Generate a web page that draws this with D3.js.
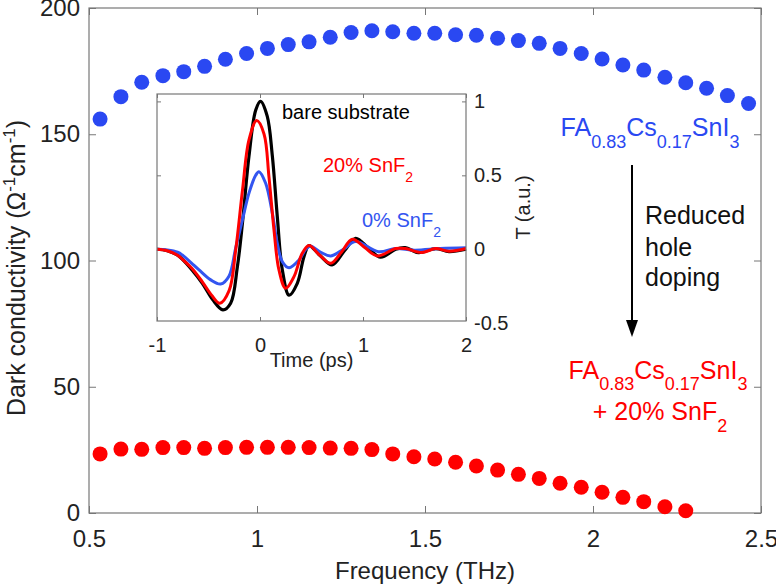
<!DOCTYPE html>
<html>
<head>
<meta charset="utf-8">
<script src="https://cdn.jsdelivr.net/npm/d3@7"></script>
<style>
  body { margin: 0; background: #fff; }
  text { font-family: "Liberation Sans", Arial, Helvetica, sans-serif; }
</style>
</head>
<body>
<script>
// main panel: dark conductivity vs frequency
const freq = [0.533, 0.595, 0.657, 0.720, 0.782, 0.844, 0.906, 0.969, 1.031, 1.093,
  1.155, 1.218, 1.280, 1.342, 1.404, 1.467, 1.529, 1.591, 1.653, 1.716,
  1.778, 1.840, 1.902, 1.965, 2.027, 2.089, 2.151, 2.214, 2.276, 2.338, 2.400, 2.463]
const sigmaPure = [156.0, 164.9, 170.6, 173.2, 174.8, 176.9, 179.7, 182.0, 184.0, 185.5,
  186.6, 188.4, 190.3, 191.0, 190.6, 190.0, 190.0, 189.4, 189.2, 188.0,
  187.1, 186.0, 184.0, 182.0, 179.8, 177.4, 175.4, 172.6, 170.4, 168.2, 165.3, 162.2]
const sigmaSnF2 = [23.4, 25.3, 25.2, 25.9, 25.9, 25.6, 25.9, 26.0, 26.0, 26.0,
  25.9, 25.7, 25.6, 25.1, 23.4, 22.3, 21.4, 20.1, 18.6, 17.0,
  15.3, 13.7, 11.8, 10.2, 8.2, 6.2, 4.5, 2.5, 0.9]
const xTicks = [0.5, 1, 1.5, 2, 2.5]
const yTicks = [0, 50, 100, 150, 200]

// inset: THz transients
const tBare = [-1.0, -0.9, -0.8, -0.75, -0.66, -0.56, -0.46, -0.36, -0.285, -0.22, -0.17, -0.107, -0.042, 0.005,
  0.07, 0.12, 0.168, 0.217, 0.282, 0.362, 0.427, 0.476, 0.58, 0.70, 0.82, 0.929, 1.05, 1.17, 1.317, 1.41,
  1.54, 1.706, 1.835, 2.0]
const eBare = [0, -0.01, -0.04, -0.07, -0.14, -0.23, -0.34, -0.41, -0.365, -0.12, 0.18, 0.63, 0.94, 1.0,
  0.90, 0.63, 0.22, -0.14, -0.31, -0.23, -0.05, 0.025, -0.04, -0.106, -0.01, 0.074, 0.01, -0.054, 0, 0.011,
  -0.023, 0.005, -0.016, 0]
const tRed = [-1.0, -0.9, -0.8, -0.75, -0.66, -0.56, -0.47, -0.39, -0.30, -0.236, -0.17, -0.107, -0.032, 0.039,
  0.087, 0.136, 0.184, 0.249, 0.33, 0.41, 0.476, 0.58, 0.686, 0.79, 0.896, 1.02, 1.139, 1.317, 1.41, 1.57,
  1.706, 1.835, 2.0]
const eRed = [0, -0.01, -0.04, -0.07, -0.13, -0.22, -0.31, -0.365, -0.28, -0.005, 0.40, 0.74, 0.87, 0.78,
  0.49, 0.13, -0.14, -0.264, -0.185, -0.027, 0.025, -0.04, -0.095, -0.02, 0.068, 0.01, -0.045, 0.005, 0.005, -0.022,
  0.005, -0.013, 0.005]
const tBlue = [-1.0, -0.9, -0.8, -0.754, -0.67, -0.592, -0.479, -0.382, -0.30, -0.236, -0.17, -0.107, -0.042, -0.01,
  0.055, 0.12, 0.168, 0.217, 0.282, 0.379, 0.444, 0.49, 0.59, 0.686, 0.81, 0.929, 1.15, 1.317, 1.5, 1.75, 2.0]
const eBlue = [0, -0.005, -0.02, -0.039, -0.09, -0.14, -0.207, -0.235, -0.18, 0.01, 0.2, 0.38, 0.50, 0.525,
  0.446, 0.243, 0.04, -0.084, -0.125, -0.072, 0, 0.02, -0.02, -0.045, 0.0, 0.052, -0.016, 0.005, -0.006, 0.005, 0.01]
const tTicks = [-1, 0, 1, 2]
const eTicks = [-0.5, 0, 0.5, 1]

const BLUE = "#2a48f2"
const RED = "#ff0000"
const AXIS = "#777"

const svg = d3.select("body").append("svg")
    .attr("width", 776)
    .attr("height", 585)

const x = d3.scaleLinear().domain([0.5, 2.5]).range([89, 761])
const y = d3.scaleLinear().domain([0, 200]).range([513, 8])

// plain labels with a hyphen for negatives, like the original
const plain = d => String(d)

// axes with inward ticks on all sides
function styleAxis(g, size) {
    g.select(".domain").remove()
    g.selectAll(".tick line").attr("stroke", AXIS)
    g.selectAll(".tick text").attr("fill", "#222").attr("font-size", size)
}

svg.append("g").attr("transform", "translate(0,513)")
    .call(d3.axisBottom(x).tickValues(xTicks).tickFormat(plain).tickSizeInner(-7).tickSizeOuter(0).tickPadding(17))
    .call(g => styleAxis(g, 24))
svg.append("g").attr("transform", "translate(0,8)")
    .call(d3.axisTop(x).tickValues(xTicks).tickFormat("").tickSizeInner(-7).tickSizeOuter(0))
    .call(g => styleAxis(g, 24))
svg.append("g").attr("transform", "translate(89,0)")
    .call(d3.axisLeft(y).tickValues(yTicks).tickFormat(plain).tickSizeInner(-7).tickSizeOuter(0).tickPadding(9))
    .call(g => styleAxis(g, 24))
svg.append("g").attr("transform", "translate(761,0)")
    .call(d3.axisRight(y).tickValues(yTicks).tickFormat("").tickSizeInner(-7).tickSizeOuter(0))
    .call(g => styleAxis(g, 24))

svg.append("rect")
    .attr("x", x(0.5)).attr("y", y(200))
    .attr("width", x(2.5) - x(0.5)).attr("height", y(0) - y(200))
    .attr("fill", "none").attr("stroke", AXIS).attr("stroke-width", 1.2)

svg.append("text")
    .attr("x", (x(0.5) + x(2.5)) / 2).attr("y", 579)
    .attr("text-anchor", "middle").attr("font-size", 24).attr("fill", "#222")
    .text("Frequency (THz)")

// text with sub / superscripts
function rich(sel, parts, base, small) {
    let shift = 0
    parts.forEach(p => {
        const t = sel.append("tspan").text(p[0])
        if (p[1] === "sub") {
            t.attr("font-size", small).attr("dy", p[2] - shift)
            shift = p[2]
        } else if (p[1] === "sup") {
            t.attr("font-size", small).attr("dy", -p[2] - shift)
            shift = -p[2]
        } else {
            t.attr("font-size", base)
            if (shift) t.attr("dy", -shift)
            shift = 0
        }
    })
    return sel
}

svg.append("text")
    .attr("transform", "translate(25,268) rotate(-90)")
    .attr("text-anchor", "middle").attr("fill", "#222")
    .call(s => rich(s, [["Dark conductivity (Ω"], ["-1", "sup", 10], ["cm"], ["-1", "sup", 10], [")"]], 25, 17))

// dots
svg.append("g").selectAll("circle")
    .data(freq.map((f, i) => [f, sigmaPure[i]]))
    .enter().append("circle")
    .attr("cx", d => x(d[0])).attr("cy", d => y(d[1]))
    .attr("r", 7.5).attr("fill", BLUE)

svg.append("g").selectAll("circle")
    .data(sigmaSnF2.map((s, i) => [freq[i], s]))
    .enter().append("circle")
    .attr("cx", d => x(d[0])).attr("cy", d => y(d[1]))
    .attr("r", 7.5).attr("fill", RED)

// annotations
svg.append("text").attr("x", 650).attr("y", 136).attr("text-anchor", "middle").attr("fill", BLUE)
    .call(s => rich(s, [["FA"], ["0.83", "sub", 12], ["Cs"], ["0.17", "sub", 12], ["SnI"], ["3", "sub", 12]], 25, 18))

svg.append("line")
    .attr("x1", 632).attr("y1", 165).attr("x2", 632).attr("y2", 325)
    .attr("stroke", "#000").attr("stroke-width", 2)
svg.append("path")
    .attr("d", "M626,320 L638,320 L632,337 Z")
    .attr("fill", "#000")

const reduced = svg.append("text").attr("font-size", 25).attr("fill", "#111")
;["Reduced", "hole", "doping"].forEach((w, i) => {
    reduced.append("tspan").attr("x", 645).attr("y", [224, 256, 286][i]).text(w)
})

svg.append("text").attr("x", 658).attr("y", 379).attr("text-anchor", "middle").attr("fill", RED)
    .call(s => rich(s, [["FA"], ["0.83", "sub", 11], ["Cs"], ["0.17", "sub", 11], ["SnI"], ["3", "sub", 11]], 25, 18))
svg.append("text").attr("x", 660).attr("y", 420).attr("text-anchor", "middle").attr("fill", RED)
    .call(s => rich(s, [["+ 20% SnF"], ["2", "sub", 12]], 25, 18))

// ---------- inset ----------
const ix = d3.scaleLinear().domain([-1, 2]).range([157, 466])
const iy = d3.scaleLinear().domain([-0.485, 1.05]).range([321, 94])

const inset = svg.append("g")
inset.append("rect")
    .attr("x", ix(-1)).attr("y", iy(1.05))
    .attr("width", ix(2) - ix(-1)).attr("height", iy(-0.485) - iy(1.05))
    .attr("fill", "#fff")

inset.append("g").attr("transform", `translate(0,${iy(-0.485)})`)
    .call(d3.axisBottom(ix).tickValues(tTicks).tickFormat(plain).tickSizeInner(-4).tickSizeOuter(0).tickPadding(16.5))
    .call(g => styleAxis(g, 20))
inset.append("g").attr("transform", `translate(0,${iy(1.05)})`)
    .call(d3.axisTop(ix).tickValues(tTicks).tickFormat("").tickSizeInner(-4).tickSizeOuter(0))
    .call(g => styleAxis(g, 20))
inset.append("g").attr("transform", `translate(${ix(2)},0)`)
    .call(d3.axisRight(iy).tickValues(eTicks).tickFormat(plain).tickSizeInner(-4).tickSizeOuter(0).tickPadding(8))
    .call(g => styleAxis(g, 20))
    .call(g => g.selectAll(".tick").filter(d => d < -0.485).select("line").remove())
inset.append("g").attr("transform", `translate(${ix(-1)},0)`)
    .call(d3.axisLeft(iy).tickValues(eTicks.filter(d => d > -0.485)).tickFormat("").tickSizeInner(-4).tickSizeOuter(0))
    .call(g => styleAxis(g, 20))

const line = d3.line()
    .x(d => ix(d[0])).y(d => iy(d[1]))
    .curve(d3.curveCatmullRom.alpha(0.5))

inset.append("path")
    .attr("d", line(tBare.map((t, i) => [t, eBare[i]])))
    .attr("fill", "none").attr("stroke", "#000").attr("stroke-width", 3.2)
inset.append("path")
    .attr("d", line(tBlue.map((t, i) => [t, eBlue[i]])))
    .attr("fill", "none").attr("stroke", "#3355f0").attr("stroke-width", 3)
inset.append("path")
    .attr("d", line(tRed.map((t, i) => [t, eRed[i]])))
    .attr("fill", "none").attr("stroke", RED).attr("stroke-width", 3)

inset.append("rect")
    .attr("x", ix(-1)).attr("y", iy(1.05))
    .attr("width", ix(2) - ix(-1)).attr("height", iy(-0.485) - iy(1.05))
    .attr("fill", "none").attr("stroke", AXIS).attr("stroke-width", 1.2)

inset.append("text").attr("x", 282).attr("y", 119).attr("font-size", 20).attr("fill", "#000")
    .text("bare substrate")
inset.append("text").attr("x", 323).attr("y", 172).attr("fill", RED)
    .call(s => rich(s, [["20% SnF"], ["2", "sub", 10]], 20, 14))
inset.append("text").attr("x", 362).attr("y", 227).attr("fill", "#3355f0")
    .call(s => rich(s, [["0% SnF"], ["2", "sub", 10]], 20, 14))

inset.append("text")
    .attr("x", (ix(-1) + ix(2)) / 2).attr("y", 367)
    .attr("text-anchor", "middle").attr("font-size", 20).attr("fill", "#222")
    .text("Time (ps)")
inset.append("text")
    .attr("transform", `translate(530,${(iy(1.05) + iy(-0.485)) / 2}) rotate(-90)`)
    .attr("text-anchor", "middle").attr("font-size", 20).attr("fill", "#222")
    .text("T (a.u.)")
</script>
</body>
</html>
